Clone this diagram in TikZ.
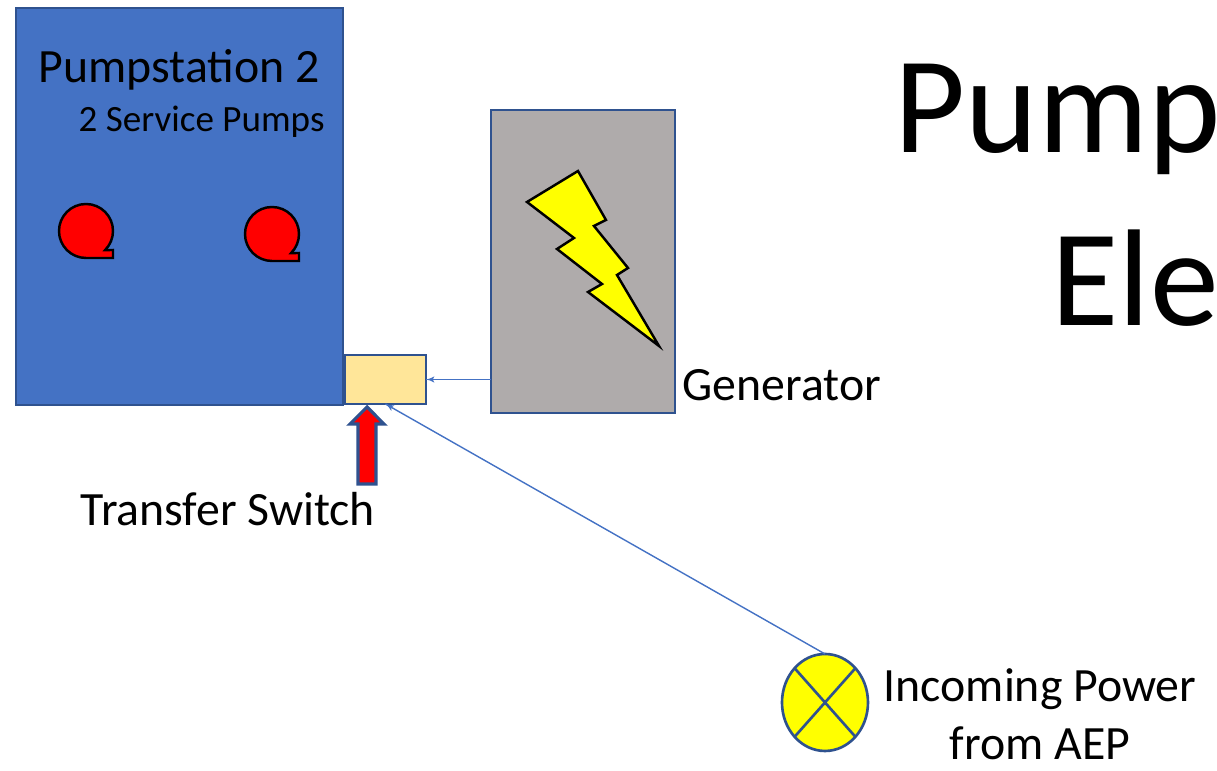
\documentclass[tikz,border=0pt]{standalone}
\usepackage{fontspec}
\setmainfont{Carlito}
\usetikzlibrary{arrows}
\usetikzlibrary{decorations.markings}
\usetikzlibrary{shapes.geometric}
\tikzset{wire/.style = {mline, line width=0.4pt,
                        decoration={markings,
                                    mark=at position 1 with {\arrow[scale=0.6]{latex'}}},
                        postaction={decorate}}}
\tikzset{block/.style = {draw=mborder, line width=0.75pt, inner sep=0, outer sep=0}}
\tikzset{pump/.style = {draw=black, fill=red, line width=0.7pt}}
\tikzset{small/.style = {anchor=base west, inner sep=0, font=\fontsize{10.55}{12}\selectfont}}
\tikzset{label/.style = {anchor=base west, inner sep=0, font=\fontsize{13.6}{16}\selectfont}}
\tikzset{title/.style = {anchor=base west, inner sep=0, font=\fontsize{39.2}{48}\selectfont}}
\definecolor{mblue}{HTML}{4472C4}
\definecolor{mborder}{HTML}{2F528F}
\definecolor{mline}{HTML}{4472C4}
\definecolor{mgrey}{HTML}{AFABAB}
\definecolor{mtan}{HTML}{FFE699}
\definecolor{myellow}{rgb}{1, 1, 0}
\begin{document}
\begin{tikzpicture}
      \useasboundingbox (0, 0) rectangle (12.17, 7.71);

      \node [block, fill=mblue, minimum width=3.27cm, minimum height=3.97cm] (station) at (1.795, 5.645) {};
      \node [block, fill=mgrey, minimum width=1.84cm, minimum height=3.03cm] (generator) at (5.83, 5.095) {};
      \node [block, fill=mtan, minimum width=0.81cm, minimum height=0.49cm] (switch) at (3.855, 3.915) {};
      \node [block, fill=myellow, ellipse, minimum width=0.86cm, minimum height=0.97cm] (source) at (8.25, 0.685) {};

      \draw [mborder, line width=0.75pt] (source.north west) -- (source.south east);
      \draw [mborder, line width=0.75pt] (source.north east) -- (source.south west);

      \draw [wire] (generator.west |- switch.east) -- (switch.east);
      \draw [wire] (source.north) -- (switch.south);

      \foreach \x/\y in {0.86/5.40, 2.72/5.37} {
        \begin{scope}[shift={(\x, \y)}]
          \draw [pump] (0, -0.27) arc (270:-45:0.27) -- (0.27, -0.19) -- (0.27, -0.27) -- cycle;
        \end{scope}
      }

      \draw [fill=red, draw=mborder, line width=0.9pt] (3.67, 3.64) -- (3.84, 3.47) -- (3.76, 3.47) -- (3.76, 2.87)
        -- (3.58, 2.87) -- (3.58, 3.47) -- (3.50, 3.47) -- cycle;

      \fill [myellow, draw=black, line width=0.7pt] (5.78, 6.00) -- (5.27, 5.69) -- (5.74, 5.33) -- (5.57, 5.22)
        -- (6.02, 4.87) -- (5.88, 4.79) -- (6.59, 4.25) -- (6.17, 4.96) -- (6.28, 5.03) -- (5.94, 5.45)
        -- (6.06, 5.51) -- cycle;

      \node [label] (stationname) at (0.38, 6.88) {Pumpstation 2};
      \node [small] (stationpumps) at (0.78, 6.39) {2 Service Pumps};
      \node [label] (switchname) at (0.80, 2.45) {Transfer Switch};
      \node [label] (generatorname) at (6.82, 3.70) {Generator};
      \node [label, anchor=base] (sourcename) at (10.40, 0.69) {Incoming Power};
      \node [label, anchor=base] (sourcefrom) at (10.40, 0.11) {from AEP};
      \node [title] (titleone) at (8.94, 6.18) {Pump};
      \node [title] (titletwo) at (10.51, 4.45) {Ele};
    \end{tikzpicture}
\end{document}
